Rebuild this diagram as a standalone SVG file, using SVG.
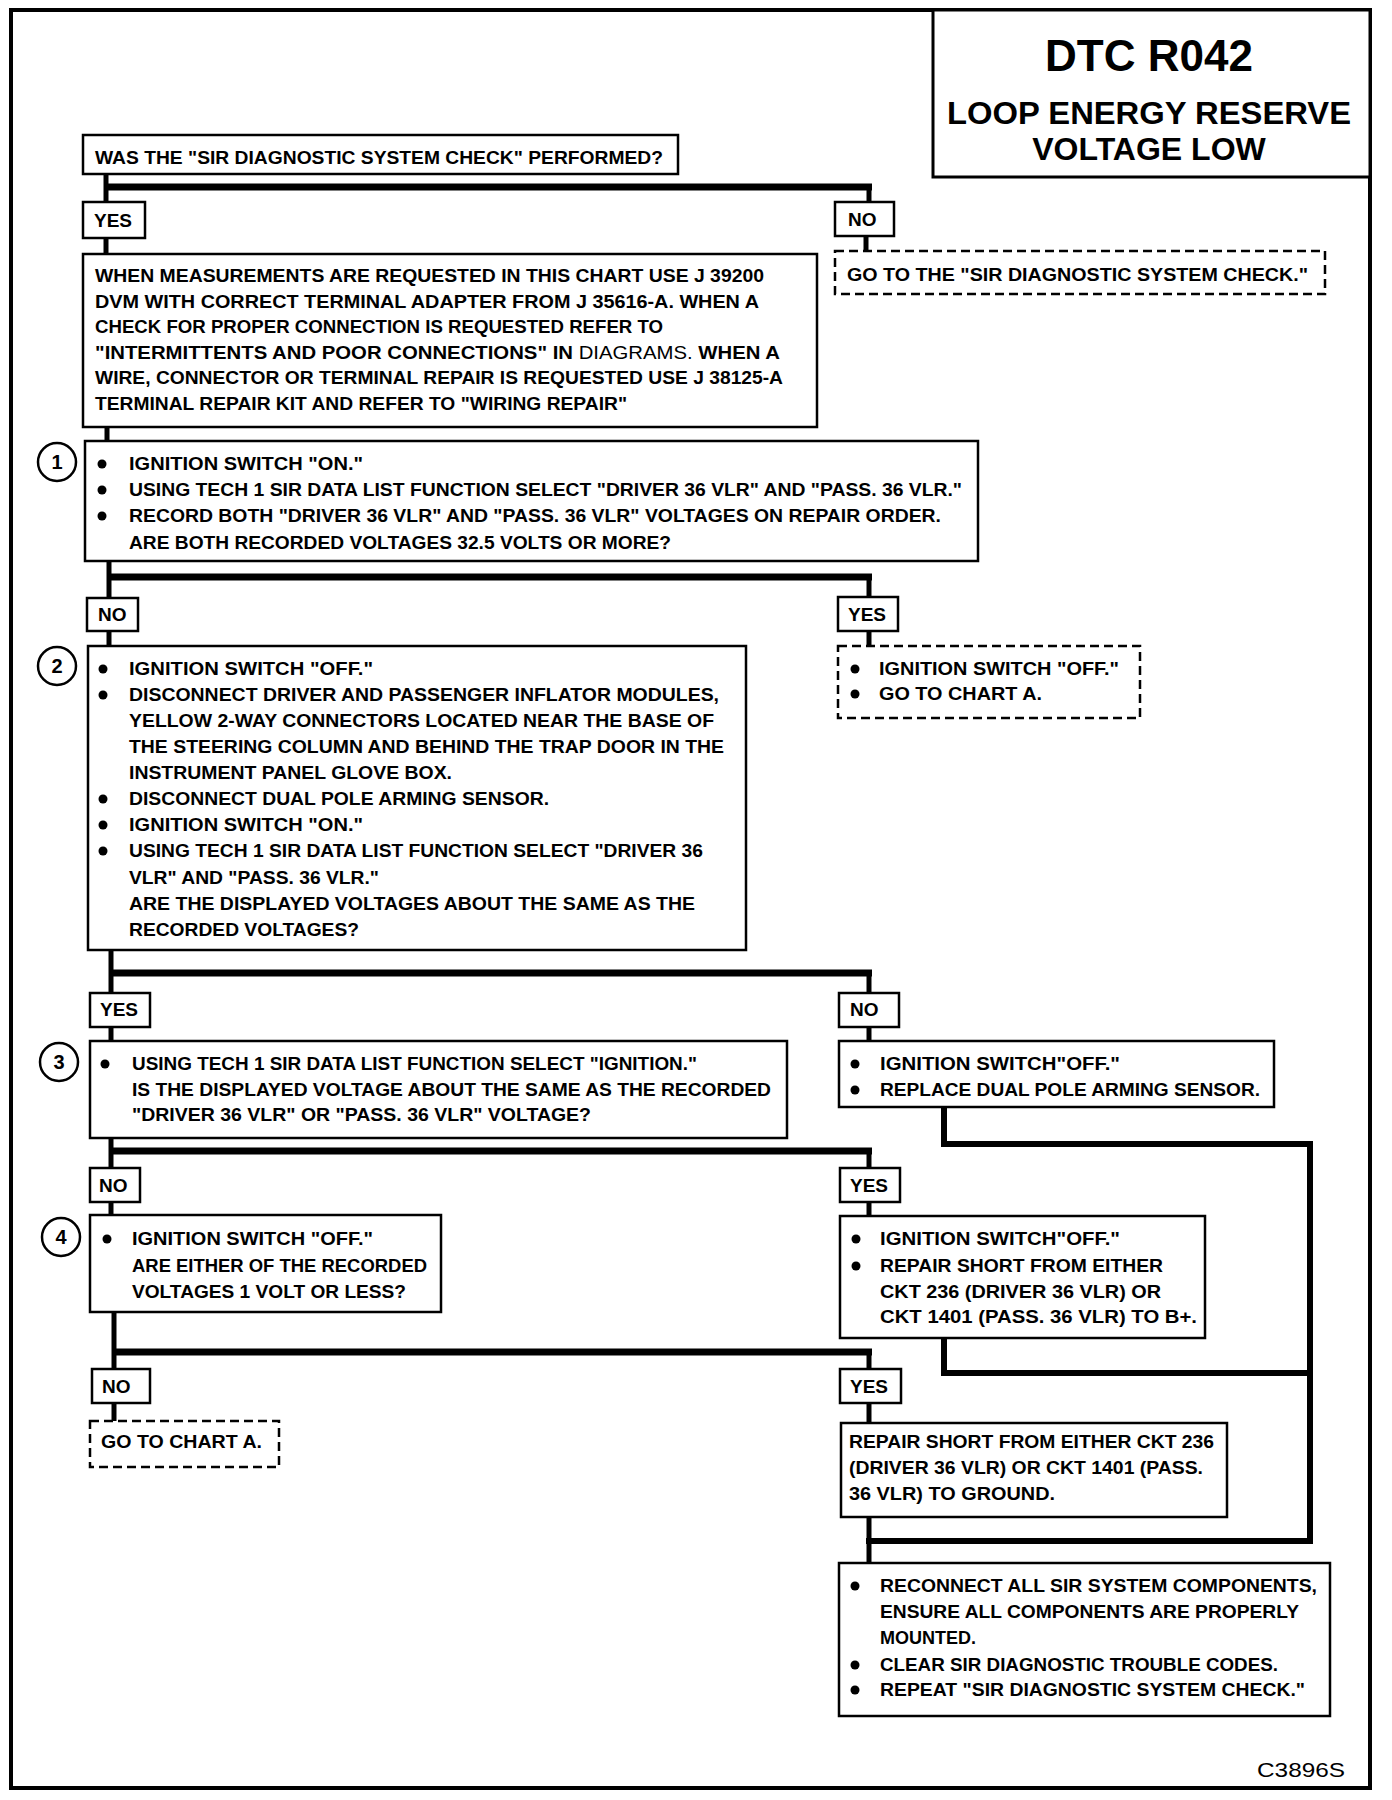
<svg xmlns="http://www.w3.org/2000/svg" width="1392" height="1800" viewBox="0 0 1392 1800">
<style>
.box{fill:#fff;stroke:#000;stroke-width:2.5}
.dash{fill:#fff;stroke:#000;stroke-width:2.5;stroke-dasharray:9 5}
.t{font-family:"Liberation Sans",Arial,sans-serif;font-weight:bold;font-size:19px;fill:#000}
.ttl{font-family:"Liberation Sans",Arial,sans-serif;font-weight:bold;fill:#000;text-anchor:middle}
.num{font-family:"Liberation Sans",Arial,sans-serif;font-weight:bold;font-size:20px;fill:#000;text-anchor:middle}
.circ{fill:#fff;stroke:#000;stroke-width:2.5}
.b{fill:#000}
.conn{stroke:#000;stroke-width:5;fill:none}
.bar{stroke:#000;stroke-width:7;fill:none}
.loop{stroke:#000;stroke-width:6;fill:none;stroke-linejoin:miter}
</style>
<rect x="0" y="0" width="1392" height="1800" fill="#fff"/>
<rect x="11" y="10" width="1359" height="1778" fill="none" stroke="#000" stroke-width="4"/>

<g id="connectors">
<path class="conn" d="M106,174 V202"/>
<path class="conn" d="M869,187 V202"/>
<path class="bar" d="M104,187 H872"/>
<path class="conn" d="M106,238 V254"/>
<path class="conn" d="M866,236 V251"/>
<path class="conn" d="M107,427 V441"/>
<path class="conn" d="M109,561 V598"/>
<path class="bar" d="M107,577 H872"/>
<path class="conn" d="M869,577 V597"/>
<path class="conn" d="M109,631 V646"/>
<path class="conn" d="M869,631 V646"/>
<path class="conn" d="M111,950 V993"/>
<path class="bar" d="M109,973 H872"/>
<path class="conn" d="M869,973 V993"/>
<path class="conn" d="M111,1027 V1041"/>
<path class="conn" d="M869,1027 V1041"/>
<path class="conn" d="M111,1138 V1168"/>
<path class="bar" d="M109,1151 H872"/>
<path class="conn" d="M869,1151 V1168"/>
<path class="conn" d="M111,1202 V1215"/>
<path class="conn" d="M869,1202 V1216"/>
<path class="conn" d="M114,1312 V1369"/>
<path class="bar" d="M112,1352 H872"/>
<path class="conn" d="M869,1352 V1369"/>
<path class="conn" d="M114,1403 V1421"/>
<path class="conn" d="M869,1403 V1423"/>
<path class="conn" d="M869,1517 V1563"/>
<path class="loop" d="M944,1107 V1144 H1310 V1541 H866"/>
<path class="loop" d="M944,1338 V1373 H1310"/>
</g>

<g id="title">
<rect x="933" y="10" width="437" height="167" fill="#fff" stroke="#000" stroke-width="3"/>
<text class="ttl" x="1149" y="71" font-size="44">DTC R042</text>
<text class="ttl" x="1149" y="124" font-size="32" textLength="404" lengthAdjust="spacingAndGlyphs">LOOP ENERGY RESERVE</text>
<text class="ttl" x="1149" y="160" font-size="32">VOLTAGE LOW</text>
</g>

<g id="q-start">
<rect class="box" x="83" y="135" width="595" height="39"/>
<text class="t" x="95" y="164" textLength="568" lengthAdjust="spacingAndGlyphs">WAS THE "SIR DIAGNOSTIC SYSTEM CHECK" PERFORMED?</text>
</g>
<g id="yes1"><rect class="box" x="83" y="202" width="62" height="36"/><text class="t" x="94" y="227">YES</text></g>
<g id="no1"><rect class="box" x="835" y="202" width="59" height="34"/><text class="t" x="848" y="226">NO</text></g>
<g id="goto-check">
<rect class="dash" x="835" y="251" width="490" height="43"/>
<text class="t" x="847" y="281" textLength="461" lengthAdjust="spacingAndGlyphs">GO TO THE "SIR DIAGNOSTIC SYSTEM CHECK."</text>
</g>

<g id="info">
<rect class="box" x="83" y="254" width="734" height="173"/>
<text class="t" x="95" y="282" textLength="669" lengthAdjust="spacingAndGlyphs">WHEN MEASUREMENTS ARE REQUESTED IN THIS CHART USE J 39200</text>
<text class="t" x="95" y="308" textLength="664" lengthAdjust="spacingAndGlyphs">DVM WITH CORRECT TERMINAL ADAPTER FROM J 35616-A.  WHEN A</text>
<text class="t" x="95" y="333" textLength="568" lengthAdjust="spacingAndGlyphs">CHECK FOR PROPER CONNECTION IS REQUESTED REFER TO</text>
<text class="t" x="95" y="359" textLength="685" lengthAdjust="spacingAndGlyphs">"INTERMITTENTS AND POOR CONNECTIONS" IN <tspan font-weight="normal">DIAGRAMS.</tspan> WHEN A</text>
<text class="t" x="95" y="384" textLength="688" lengthAdjust="spacingAndGlyphs">WIRE, CONNECTOR OR TERMINAL REPAIR IS REQUESTED USE J 38125-A</text>
<text class="t" x="95" y="410" textLength="532" lengthAdjust="spacingAndGlyphs">TERMINAL REPAIR KIT AND REFER TO "WIRING REPAIR"</text>
</g>

<g id="step1">
<circle class="circ" cx="57" cy="462" r="19"/><text class="num" x="57" y="469">1</text>
<rect class="box" x="85" y="441" width="893" height="120"/>
<circle class="b" cx="102" cy="464" r="4.5"/><circle class="b" cx="102" cy="490" r="4.5"/><circle class="b" cx="102" cy="516" r="4.5"/>
<text class="t" x="129" y="470" textLength="234" lengthAdjust="spacingAndGlyphs">IGNITION SWITCH "ON."</text>
<text class="t" x="129" y="496" textLength="833" lengthAdjust="spacingAndGlyphs">USING TECH 1 SIR DATA LIST FUNCTION SELECT "DRIVER 36 VLR" AND "PASS. 36 VLR."</text>
<text class="t" x="129" y="522" textLength="812" lengthAdjust="spacingAndGlyphs">RECORD BOTH "DRIVER 36 VLR" AND "PASS. 36 VLR" VOLTAGES ON REPAIR ORDER.</text>
<text class="t" x="129" y="549" textLength="542" lengthAdjust="spacingAndGlyphs">ARE BOTH RECORDED VOLTAGES 32.5 VOLTS OR MORE?</text>
</g>
<g id="no2"><rect class="box" x="87" y="598" width="51" height="33"/><text class="t" x="98" y="621">NO</text></g>
<g id="yes2"><rect class="box" x="838" y="597" width="60" height="34"/><text class="t" x="848" y="621">YES</text></g>
<g id="chart-a-1">
<rect class="dash" x="838" y="646" width="302" height="72"/>
<circle class="b" cx="855" cy="669" r="4.5"/><circle class="b" cx="855" cy="694" r="4.5"/>
<text class="t" x="879" y="675" textLength="240" lengthAdjust="spacingAndGlyphs">IGNITION SWITCH "OFF."</text>
<text class="t" x="879" y="700" textLength="163" lengthAdjust="spacingAndGlyphs">GO TO CHART A.</text>
</g>

<g id="step2">
<circle class="circ" cx="57" cy="666" r="19"/><text class="num" x="57" y="673">2</text>
<rect class="box" x="88" y="646" width="658" height="304"/>
<circle class="b" cx="103" cy="669" r="4.5"/><circle class="b" cx="103" cy="695" r="4.5"/><circle class="b" cx="103" cy="799" r="4.5"/><circle class="b" cx="103" cy="825" r="4.5"/><circle class="b" cx="103" cy="851" r="4.5"/>
<text class="t" x="129" y="675" textLength="244" lengthAdjust="spacingAndGlyphs">IGNITION SWITCH "OFF."</text>
<text class="t" x="129" y="701" textLength="590" lengthAdjust="spacingAndGlyphs">DISCONNECT DRIVER AND PASSENGER INFLATOR MODULES,</text>
<text class="t" x="129" y="727" textLength="585" lengthAdjust="spacingAndGlyphs">YELLOW 2-WAY CONNECTORS LOCATED NEAR THE BASE OF</text>
<text class="t" x="129" y="753" textLength="595" lengthAdjust="spacingAndGlyphs">THE STEERING COLUMN AND BEHIND THE TRAP DOOR IN THE</text>
<text class="t" x="129" y="779" textLength="323" lengthAdjust="spacingAndGlyphs">INSTRUMENT PANEL GLOVE BOX.</text>
<text class="t" x="129" y="805" textLength="420" lengthAdjust="spacingAndGlyphs">DISCONNECT DUAL POLE ARMING SENSOR.</text>
<text class="t" x="129" y="831" textLength="234" lengthAdjust="spacingAndGlyphs">IGNITION SWITCH "ON."</text>
<text class="t" x="129" y="857" textLength="574" lengthAdjust="spacingAndGlyphs">USING TECH 1 SIR DATA LIST FUNCTION SELECT "DRIVER 36</text>
<text class="t" x="129" y="884" textLength="250" lengthAdjust="spacingAndGlyphs">VLR" AND "PASS. 36 VLR."</text>
<text class="t" x="129" y="910" textLength="566" lengthAdjust="spacingAndGlyphs">ARE THE DISPLAYED VOLTAGES ABOUT THE SAME AS THE</text>
<text class="t" x="129" y="936" textLength="230" lengthAdjust="spacingAndGlyphs">RECORDED VOLTAGES?</text>
</g>
<g id="yes3"><rect class="box" x="90" y="993" width="60" height="34"/><text class="t" x="100" y="1016">YES</text></g>
<g id="no3"><rect class="box" x="839" y="993" width="60" height="34"/><text class="t" x="850" y="1016">NO</text></g>

<g id="step3">
<circle class="circ" cx="59" cy="1062" r="19"/><text class="num" x="59" y="1069">3</text>
<rect class="box" x="90" y="1041" width="697" height="97"/>
<circle class="b" cx="105" cy="1064" r="4.5"/>
<text class="t" x="132" y="1070" textLength="565" lengthAdjust="spacingAndGlyphs">USING TECH 1 SIR DATA LIST FUNCTION SELECT "IGNITION."</text>
<text class="t" x="132" y="1096" textLength="639" lengthAdjust="spacingAndGlyphs">IS THE DISPLAYED VOLTAGE ABOUT THE SAME AS THE RECORDED</text>
<text class="t" x="132" y="1121" textLength="459" lengthAdjust="spacingAndGlyphs">"DRIVER 36 VLR" OR "PASS. 36 VLR" VOLTAGE?</text>
</g>
<g id="replace-sensor">
<rect class="box" x="839" y="1041" width="435" height="66"/>
<circle class="b" cx="855" cy="1064" r="4.5"/><circle class="b" cx="855" cy="1090" r="4.5"/>
<text class="t" x="880" y="1070" textLength="240" lengthAdjust="spacingAndGlyphs">IGNITION SWITCH"OFF."</text>
<text class="t" x="880" y="1096" textLength="380" lengthAdjust="spacingAndGlyphs">REPLACE DUAL POLE ARMING SENSOR.</text>
</g>
<g id="no4"><rect class="box" x="90" y="1168" width="50" height="34"/><text class="t" x="99" y="1192">NO</text></g>
<g id="yes4"><rect class="box" x="840" y="1168" width="60" height="34"/><text class="t" x="850" y="1192">YES</text></g>

<g id="step4">
<circle class="circ" cx="61" cy="1237" r="19"/><text class="num" x="61" y="1244">4</text>
<rect class="box" x="90" y="1215" width="351" height="97"/>
<circle class="b" cx="107" cy="1239" r="4.5"/>
<text class="t" x="132" y="1245" textLength="241" lengthAdjust="spacingAndGlyphs">IGNITION SWITCH "OFF."</text>
<text class="t" x="132" y="1272" textLength="295" lengthAdjust="spacingAndGlyphs">ARE EITHER OF THE RECORDED</text>
<text class="t" x="132" y="1298" textLength="274" lengthAdjust="spacingAndGlyphs">VOLTAGES 1 VOLT OR LESS?</text>
</g>
<g id="repair-bplus">
<rect class="box" x="840" y="1216" width="365" height="122"/>
<circle class="b" cx="856" cy="1239" r="4.5"/><circle class="b" cx="856" cy="1266" r="4.5"/>
<text class="t" x="880" y="1245" textLength="240" lengthAdjust="spacingAndGlyphs">IGNITION SWITCH"OFF."</text>
<text class="t" x="880" y="1272" textLength="283" lengthAdjust="spacingAndGlyphs">REPAIR SHORT FROM EITHER</text>
<text class="t" x="880" y="1298" textLength="281" lengthAdjust="spacingAndGlyphs">CKT 236 (DRIVER 36 VLR) OR</text>
<text class="t" x="880" y="1323" textLength="317" lengthAdjust="spacingAndGlyphs">CKT 1401 (PASS. 36 VLR) TO B+.</text>
</g>
<g id="no5"><rect class="box" x="92" y="1369" width="58" height="34"/><text class="t" x="102" y="1393">NO</text></g>
<g id="yes5"><rect class="box" x="840" y="1369" width="61" height="34"/><text class="t" x="850" y="1393">YES</text></g>
<g id="chart-a-2">
<rect class="dash" x="90" y="1421" width="189" height="46"/>
<text class="t" x="101" y="1448" textLength="161" lengthAdjust="spacingAndGlyphs">GO TO CHART A.</text>
</g>
<g id="repair-ground">
<rect class="box" x="841" y="1423" width="386" height="94"/>
<text class="t" x="849" y="1448" textLength="365" lengthAdjust="spacingAndGlyphs">REPAIR SHORT FROM EITHER CKT 236</text>
<text class="t" x="849" y="1474" textLength="354" lengthAdjust="spacingAndGlyphs">(DRIVER 36 VLR) OR CKT 1401 (PASS.</text>
<text class="t" x="849" y="1500" textLength="206" lengthAdjust="spacingAndGlyphs">36 VLR) TO GROUND.</text>
</g>
<g id="final">
<rect class="box" x="839" y="1563" width="491" height="153"/>
<circle class="b" cx="855" cy="1586" r="4.5"/><circle class="b" cx="855" cy="1665" r="4.5"/><circle class="b" cx="855" cy="1690" r="4.5"/>
<text class="t" x="880" y="1592" textLength="437" lengthAdjust="spacingAndGlyphs">RECONNECT ALL SIR SYSTEM COMPONENTS,</text>
<text class="t" x="880" y="1618" textLength="419" lengthAdjust="spacingAndGlyphs">ENSURE ALL COMPONENTS ARE PROPERLY</text>
<text class="t" x="880" y="1644" textLength="96" lengthAdjust="spacingAndGlyphs">MOUNTED.</text>
<text class="t" x="880" y="1671" textLength="398" lengthAdjust="spacingAndGlyphs">CLEAR SIR DIAGNOSTIC TROUBLE CODES.</text>
<text class="t" x="880" y="1696" textLength="425" lengthAdjust="spacingAndGlyphs">REPEAT "SIR DIAGNOSTIC SYSTEM CHECK."</text>
</g>
<text x="1257" y="1777" font-family="Liberation Sans, Arial, sans-serif" font-size="21" textLength="88" lengthAdjust="spacingAndGlyphs">C3896S</text>
</svg>
